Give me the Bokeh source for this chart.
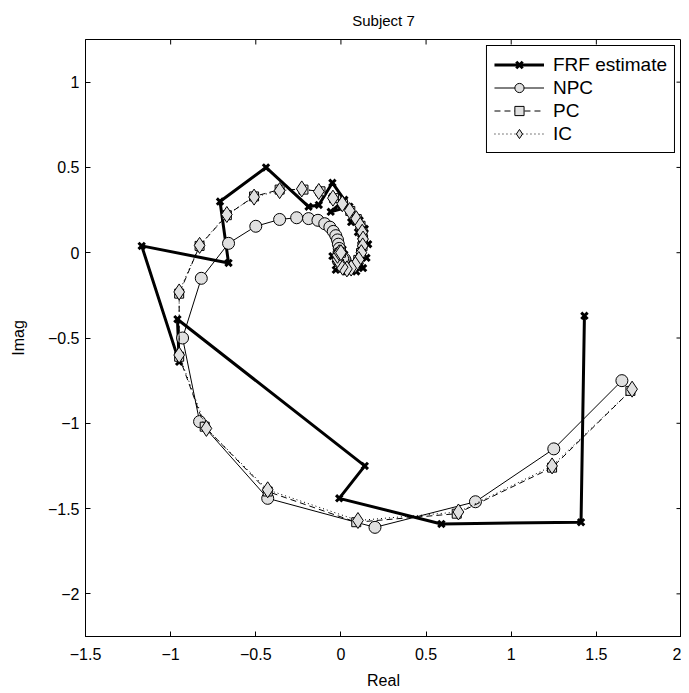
import math
from bokeh.plotting import figure
from bokeh.models import FixedTicker, Range1d, Legend
from bokeh.embed import file_html
from bokeh.resources import INLINE

# ---- data ----
frf_real = [1.43, 1.41, 0.59, -0.01, 0.14, -0.96, -0.95, -1.17, -0.66, -0.71, -0.44,
            -0.19, -0.13, -0.05, 0.02, -0.06, 0.05, 0.08, 0.06, 0.11, 0.10, 0.14, 0.12,
            0.16, 0.12, 0.15, 0.11, 0.13, 0.08, 0.09, 0.04, 0.03, 0.00, -0.03, -0.03,
            -0.05, -0.02, 0.01, 0.02, 0.00]
frf_imag = [-0.37, -1.58, -1.59, -1.44, -1.25, -0.39, -0.64, 0.04, -0.06, 0.30, 0.50,
            0.27, 0.28, 0.41, 0.31, 0.24, 0.27, 0.21, 0.18, 0.19, 0.12, 0.14, 0.07,
            0.05, 0.01, -0.03, -0.05, -0.09, -0.08, -0.11, -0.08, -0.11, -0.07, -0.10,
            -0.04, -0.02, 0.01, 0.02, -0.01, -0.02]

npc_real = [1.65, 1.25, 0.79, 0.20, -0.43, -0.83, -0.93, -0.82, -0.66, -0.50, -0.36,
            -0.26, -0.19, -0.135, -0.095, -0.065, -0.045, -0.03, -0.02, -0.015, -0.01,
            -0.005, 0.0, 0.005, 0.01, 0.02, 0.025, 0.02, 0.01]
npc_imag = [-0.75, -1.15, -1.46, -1.61, -1.44, -0.99, -0.50, -0.15, 0.055, 0.155, 0.195,
            0.205, 0.20, 0.19, 0.17, 0.15, 0.125, 0.10, 0.075, 0.05, 0.025, 0.0, -0.02,
            -0.04, -0.05, -0.055, -0.045, -0.035, -0.035]

pc_real = [1.70, 1.24, 0.68, 0.09, -0.43, -0.80, -0.95, -0.95, -0.83, -0.67, -0.51,
           -0.36, -0.22, -0.12, -0.04, 0.012, 0.055, 0.093, 0.115, 0.126, 0.13, 0.127,
           0.118, 0.102, 0.082, 0.057, 0.032, 0.008, -0.011, -0.02, -0.019, -0.009, 0.0]
pc_imag = [-0.81, -1.26, -1.53, -1.58, -1.40, -1.02, -0.61, -0.24, 0.04, 0.22, 0.33,
           0.37, 0.37, 0.36, 0.32, 0.285, 0.245, 0.197, 0.158, 0.118, 0.078, 0.038, -0.002,
           -0.042, -0.072, -0.091, -0.096, -0.086, -0.066, -0.041, -0.016, -0.001, 0.0]

ic_real = [1.71, 1.24, 0.69, 0.10, -0.43, -0.79, -0.95, -0.95, -0.83, -0.67, -0.51,
           -0.36, -0.23, -0.13, -0.047, 0.008, 0.051, 0.09, 0.113, 0.125, 0.13, 0.128,
           0.12, 0.105, 0.085, 0.06, 0.035, 0.01, -0.01, -0.02, -0.02, -0.01, 0.0]
ic_imag = [-0.80, -1.25, -1.52, -1.57, -1.39, -1.03, -0.60, -0.23, 0.043, 0.224, 0.326,
           0.364, 0.374, 0.359, 0.320, 0.287, 0.247, 0.199, 0.16, 0.12, 0.08, 0.04, 0.0,
           -0.04, -0.07, -0.09, -0.095, -0.085, -0.065, -0.04, -0.015, 0.0, 0.0]

x_ticks = [-1.5, -1, -0.5, 0, 0.5, 1, 1.5, 2]
x_tick_labels = ["\u22121.5", "\u22121", "\u22120.5", "0", "0.5", "1", "1.5", "2"]
y_ticks = [-2, -1.5, -1, -0.5, 0, 0.5, 1]
y_tick_labels = ["\u22122", "\u22121.5", "\u22121", "\u22120.5", "0", "0.5", "1"]

X_MIN, X_MAX = -1.5, 2.0
Y_MIN, Y_MAX = -2.25, 1.25

FONT = "Liberation Sans"
GREY = "#e0e0e0"

p = figure(frame_width=596, frame_height=597, output_backend="svg", toolbar_location=None,
           x_range=Range1d(X_MIN, X_MAX), y_range=Range1d(Y_MIN, Y_MAX),
           min_border_left=85, min_border_right=0, min_border_top=39,
           min_border_bottom=0)
p.title.text = "Subject 7"
p.title.align = "center"
p.title.vertical_align = "top"
p.title.text_font = FONT
p.title.text_font_size = "15px"
p.title.text_font_style = "normal"
p.title.text_color = "black"
p.title.standoff = 18

p.xgrid.visible = False
p.ygrid.visible = False
p.outline_line_color = "black"
p.outline_line_width = 1
p.outline_line_alpha = 1

def style_axis(ax, ticks, labels):
    ax.ticker = FixedTicker(ticks=ticks)
    ax.major_label_overrides = {t: l for t, l in zip(ticks, labels)}
    ax.major_tick_in = 5
    ax.major_tick_out = 0
    ax.minor_tick_in = 0
    ax.minor_tick_out = 0
    ax.axis_line_color = "black"
    ax.major_tick_line_color = "black"
    ax.major_label_text_font = FONT
    ax.major_label_text_color = "black"
    ax.major_label_text_font_size = "16px"
    ax.major_label_standoff = 6
    ax.axis_label_text_font = FONT
    ax.axis_label_text_font_size = "16px"
    ax.axis_label_text_font_style = "normal"
    ax.axis_label_text_color = "black"

style_axis(p.xaxis[0], x_ticks, x_tick_labels)
style_axis(p.yaxis[0], y_ticks, y_tick_labels)
p.xaxis[0].axis_label = "Real"
p.yaxis[0].axis_label = "Imag"
p.xaxis[0].major_label_standoff = 11
p.xaxis[0].axis_label_standoff = 9
p.yaxis[0].axis_label_standoff = 18

# inward ticks on the top and right edges of the box
p.ray(x=x_ticks, y=[Y_MAX] * len(x_ticks), length=5, length_units="screen",
      angle=-math.pi / 2, line_color="black", line_width=1)
p.ray(x=[X_MAX] * len(y_ticks), y=y_ticks, length=5, length_units="screen",
      angle=math.pi, line_color="black", line_width=1)

# series
r1 = p.line(frf_real, frf_imag, line_color="black", line_width=3)
r1m = p.scatter(frf_real, frf_imag, marker="x", size=9, line_color="black", line_width=3)

r2 = p.line(npc_real, npc_imag, line_color="black", line_width=1)
r2m = p.scatter(npc_real, npc_imag, marker="circle", size=12, fill_color=GREY,
                line_color="black", line_width=1)

r3 = p.line(pc_real, pc_imag, line_color="black", line_width=1, line_dash="6 4")
r3m = p.scatter(pc_real, pc_imag, marker="square", size=9, fill_color=GREY,
                line_color="black", line_width=1)

r4 = p.line(ic_real, ic_imag, line_color="black", line_width=1, line_dash="1 3")
r4m = p.scatter(ic_real, ic_imag, marker="diamond", size=16, fill_color=GREY,
                line_color="black", line_width=1)

legend = Legend(items=[("FRF estimate", [r1, r1m]), ("NPC", [r2, r2m]),
                       ("PC", [r3, r3m]), ("IC", [r4, r4m])],
                location="top_right")
legend.label_text_font = FONT
legend.label_text_font_size = "19px"
legend.label_text_color = "black"
legend.glyph_width = 50
legend.glyph_height = 23
legend.label_height = 23
legend.label_standoff = 9
legend.spacing = 0
legend.padding = 7
legend.margin = 6
legend.border_line_color = "black"
legend.border_line_width = 1
legend.border_line_alpha = 1
legend.background_fill_alpha = 1
p.add_layout(legend, "center")

open("out.html", "w").write(file_html(p, INLINE))
